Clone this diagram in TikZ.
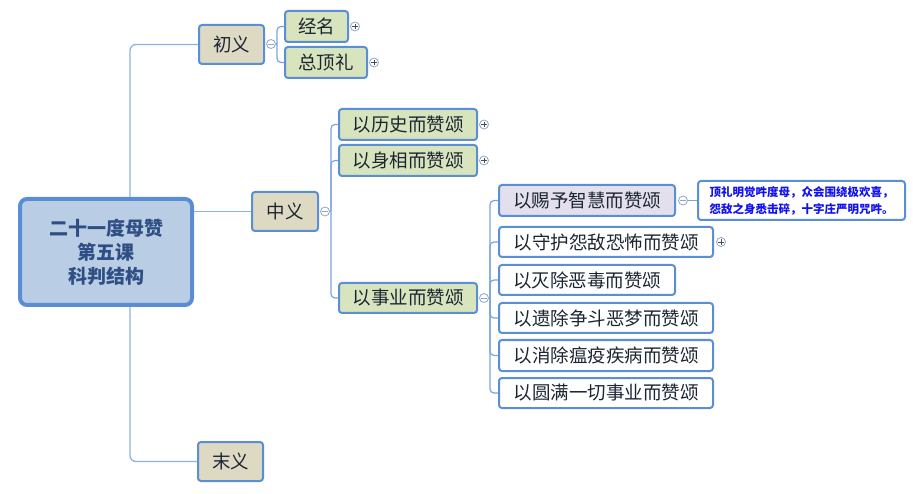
\documentclass[tikz,border=0pt]{standalone}
\usepackage{fontspec}
\setmainfont{Noto Sans CJK SC}
\usetikzlibrary{calc}
\definecolor{bordc}{HTML}{5B8FD5}
\definecolor{connc}{HTML}{8DB3E2}
\definecolor{rootfill}{HTML}{B9CDE5}
\definecolor{rootbord}{HTML}{5A8DD3}
\definecolor{roottext}{HTML}{2F4F84}
\definecolor{tanfill}{HTML}{DDD9C3}
\definecolor{greenfill}{HTML}{D7E4BD}
\definecolor{lavfill}{HTML}{E4DFEC}
\definecolor{txtc}{HTML}{1C2633}
\definecolor{notec}{HTML}{1010F0}
\definecolor{circc}{HTML}{8FA6C8}
\tikzset{
  box/.style={draw=bordc, line width=2pt, rounded corners=3pt, inner sep=0pt,
    text=txtc, font=\fontsize{18.5}{22}\selectfont},
  tanbox/.style={box, fill=tanfill},
  greenbox/.style={box, fill=greenfill},
  whitebox/.style={box, fill=white},
  lavbox/.style={box, fill=lavfill},
  conn/.style={draw=connc, line width=1.3pt, rounded corners=6pt},
  conn2/.style={draw=bordc!80, line width=1.2pt, rounded corners=4pt},
  togglebase/.style={circle, draw=circc, fill=white, line width=0.8pt, minimum size=9pt, inner sep=0pt},
  minus/.style={togglebase, path picture={\draw[circc, line width=0.9pt] ([xshift=-2.6pt]path picture bounding box.center) -- ([xshift=2.6pt]path picture bounding box.center);}},
  plus/.style={togglebase, path picture={\draw[black!70, line width=0.9pt] ([xshift=-2.6pt]path picture bounding box.center) -- ([xshift=2.6pt]path picture bounding box.center) ([yshift=-2.6pt]path picture bounding box.center) -- ([yshift=2.6pt]path picture bounding box.center);}},
}
\begin{document}
\begin{tikzpicture}[x=1pt,y=-1pt]
\useasboundingbox (0,0) rectangle (913,494);
% root
\node[draw=rootbord, line width=4pt, rounded corners=7pt, fill=rootfill, minimum width=172pt, minimum height=106pt, inner sep=0pt, align=center, text=roottext, font=\bfseries\fontsize{19}{24}\selectfont] (root) at (106,252) {二十一度母赞\\第五课\\科判结构};
% level 1
\node[tanbox, minimum width=65pt, minimum height=39pt] (a1) at (231.5,44.5) {初义};
\node[tanbox, minimum width=66pt, minimum height=39pt] (a2) at (285,211.5) {中义};
\node[tanbox, minimum width=65pt, minimum height=39pt] (a3) at (230.5,461.5) {末义};
% level 2 under 初义
\node[greenbox, minimum width=63pt, minimum height=31pt] (b1) at (316.5,26.5) {经名};
\node[greenbox, minimum width=82pt, minimum height=31pt] (b2) at (326,62.5) {总顶礼};
% level 2 under 中义
\node[greenbox, minimum width=138pt, minimum height=31pt] (m1) at (408,124.5) {以历史而赞颂};
\node[greenbox, minimum width=138pt, minimum height=31pt] (m2) at (408,160.5) {以身相而赞颂};
\node[greenbox, minimum width=138pt, minimum height=30pt] (m3) at (408,298) {以事业而赞颂};
% level 3 under 以事业
\node[lavbox, minimum width=176pt, minimum height=31pt] (s1) at (587,200.5) {以赐予智慧而赞颂};
\node[whitebox, minimum width=214pt, minimum height=30pt] (s2) at (606,242) {以守护怨敌恐怖而赞颂};
\node[whitebox, minimum width=176pt, minimum height=30pt] (s3) at (587,280) {以灭除恶毒而赞颂};
\node[whitebox, minimum width=214pt, minimum height=30pt] (s4) at (606,318) {以遗除争斗恶梦而赞颂};
\node[whitebox, minimum width=214pt, minimum height=31pt] (s5) at (606,355.5) {以消除瘟疫疾病而赞颂};
\node[whitebox, minimum width=214pt, minimum height=30pt] (s6) at (606,393) {以圆满一切事业而赞颂};
% note
\node[draw=bordc, line width=2pt, rounded corners=3pt, fill=white, minimum width=207pt, minimum height=39pt, inner sep=0pt, align=left, text=notec, font=\bfseries\fontsize{11.5}{17}\selectfont] (note) at (801.5,200.5) {顶礼明觉吽度母，众会围绕极欢喜，\\怨敌之身悉击碎，十字庄严明咒吽。};
% toggles
\node[minus] (t1) at (271,44) {};
\node[minus] (t2) at (325,211.5) {};
\node[minus] (t3) at (484,298) {};
\node[minus] (t4) at (683,200.5) {};
\node[plus] (p1) at ([xshift=6pt]b1.east) {};
\node[plus] (p2) at ([xshift=6pt]b2.east) {};
\node[plus] (p3) at ([xshift=6pt]m1.east) {};
\node[plus] (p4) at ([xshift=6pt]m2.east) {};
\node[plus] (p5) at ([xshift=7pt]s2.east) {};
% root connectors
\draw[conn] ([xshift=24pt]root.north) |- (a1.west);
\draw[conn] (root.east |- a2.west) -- (a2.west);
\draw[conn] ([xshift=24pt]root.south) |- (a3.west);
% 初义 branch
\coordinate (j1) at ([xshift=6pt]t1.center);
\draw[conn2] (t1.east) -- (j1);
\draw[conn2] (j1) |- (b1.west);
\draw[conn2] (j1) |- (b2.west);
% 中义 branch
\coordinate (j2) at ([xshift=6pt]t2.center);
\draw[conn2] (t2.east) -- (j2);
\draw[conn2] (j2) |- (m1.west);
\draw[conn2] (j2) |- (m2.west);
\draw[conn2] (j2) |- (m3.west);
% 以事业 branch
\coordinate (j3) at ([xshift=6pt]t3.center);
\draw[conn2] (t3.east) -- (j3);
\foreach \s in {s1,s2,s3,s4,s5,s6} \draw[conn2] (j3) |- (\s.west);
% note link
\draw[conn2] (t4.east) -- (note.west);
\end{tikzpicture}
\end{document}
